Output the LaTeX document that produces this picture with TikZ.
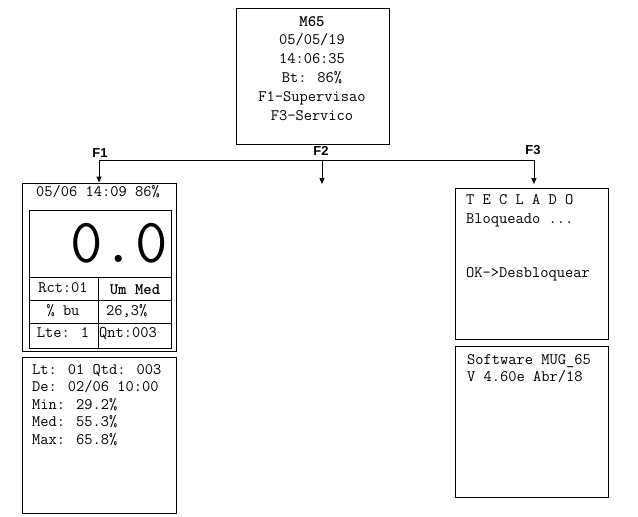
\documentclass[tikz,border=0pt]{standalone}
\usepackage{fontspec}
\setsansfont{Liberation Sans}
\usetikzlibrary{arrows.meta, positioning}

\begin{document}
\begin{tikzpicture}[
  x=1pt, y=-1pt,
  %%── Styles ───────────────────────────────────────────────────────────────
  screen/.style={draw=black, line width=1pt, inner sep=0pt},
  lcd/.style={font=\ttfamily\fontsize{16}{18}\selectfont, inner sep=0pt},
  bignum/.style={font=\ttfamily\fontsize{63}{63}\selectfont, inner sep=0pt},
  keylabel/.style={font=\sffamily\bfseries\fontsize{13}{15}\selectfont, inner sep=0pt},
  keyline/.style={draw=black, line width=1pt},
  keyarrow/.style={keyline, -{Triangle[width=5pt,length=6pt]}},
  cell/.style={draw=black, line width=0.8pt},
]
\useasboundingbox (0,0) rectangle (638,517);

%%── Main menu screen (x: 236 → 389, y: 8 → 144) ────────────────────────
\node[screen, minimum width=153pt, minimum height=136pt] (menu) at (312.5, 76) {};
\foreach \txt [count=\i from 0] in {{\bfseries M65}, 05/05/19, 14:06:35,
                                    {Bt: 86\%}, F1-Supervisao, F3-Servico} {
  \node[lcd, anchor=base] (menu-\i) at (312, 26+18.8*\i) {\txt};
}

%%── Key branches F1 / F2 / F3 (line at y=160) ──────────────────────────
\coordinate (f1)    at (99, 160);
\coordinate (f2)    at (322, 160);
\coordinate (f3)    at (534, 160);
\coordinate (f2end) at (322, 184);
\coordinate (f3end) at (534, 184);

\node[keylabel] (lblf1) at (100, 153.5) {F1};
\node[keylabel] (lblf2) at (321, 151)   {F2};
\node[keylabel] (lblf3) at (533, 150)   {F3};

%%════════════════════════════════════════════════════════════════
%% F1 — Supervision screen (x: 22 → 176, y: 183 → 351)
%%════════════════════════════════════════════════════════════════
\node[screen, minimum width=154pt, minimum height=168pt] (supbox) at (99, 267) {};
\node[lcd, anchor=base] (suphead) at (98, 196) {05/06 14:09 86\%};

%% inner display panel (x: 29 → 171, y: 210 → 348)
\node[screen, minimum width=142pt, minimum height=138pt] (lcdpanel) at (100, 279) {};
\foreach \yy in {277, 300, 323} {
  \draw[cell] (29, \yy) -- (171, \yy);
}
\draw[cell] (98, 277) -- (98, 348);

\node[bignum, anchor=east] (reading) at (168, 243) {0.0};

\node[lcd, anchor=base]      (rct)   at (63, 292)  {Rct:01};
\node[lcd, anchor=base]      (unit)  at (135, 294) {\bfseries Um Med};
\node[lcd, anchor=base]      (pbu)   at (63, 315)  {\% bu};
\node[lcd, anchor=base west] (value) at (106, 315) {26,3\%};
\node[lcd, anchor=base]      (lte)   at (63, 337)  {Lte: 1};
\node[lcd, anchor=base west] (qnt)   at (99, 337)  {Qnt:003};

%%── Lot statistics screen (x: 22 → 176, y: 357 → 513) ──────────────────
\node[screen, minimum width=154pt, minimum height=156pt] (lotbox) at (99, 435) {};
\foreach \txt [count=\i from 0] in {Lt: 01 Qtd: 003, De: 02/06 10:00,
                                    {Min: 29.2\%}, {Med: 55.3\%}, {Max: 65.8\%}} {
  \node[lcd, anchor=base west] (lot-\i) at (32, 374+17.6*\i) {\txt};
}

%%════════════════════════════════════════════════════════════════
%% F3 — Service screens (x: 455 → 608)
%%════════════════════════════════════════════════════════════════
\node[screen, minimum width=153pt, minimum height=151pt] (tecbox) at (531.5, 263.5) {};
\node[lcd, anchor=base west] (tec-1) at (466, 204) {T E C L A D O};
\node[lcd, anchor=base west] (tec-2) at (466, 223) {Bloqueado ...};
\node[lcd, anchor=base west] (tec-3) at (466, 277) {OK->Desbloquear};

\node[screen, minimum width=153pt, minimum height=151pt] (swbox) at (531.5, 421.5) {};
\node[lcd, anchor=base west] (sw-1) at (467, 364) {Software MUG\_65};
\node[lcd, anchor=base west] (sw-2) at (467, 381) {V 4.60e Abr/18};

%%── Connectors ──────────────────────────────────────────────────────────
\draw[keyline]  (f1) -- (f3);
\draw[keyarrow] (f1) -- (supbox.north);
\draw[keyarrow] (f2) -- (f2end);
\draw[keyarrow] (f3) -- (f3end);

\end{tikzpicture}
\end{document}
